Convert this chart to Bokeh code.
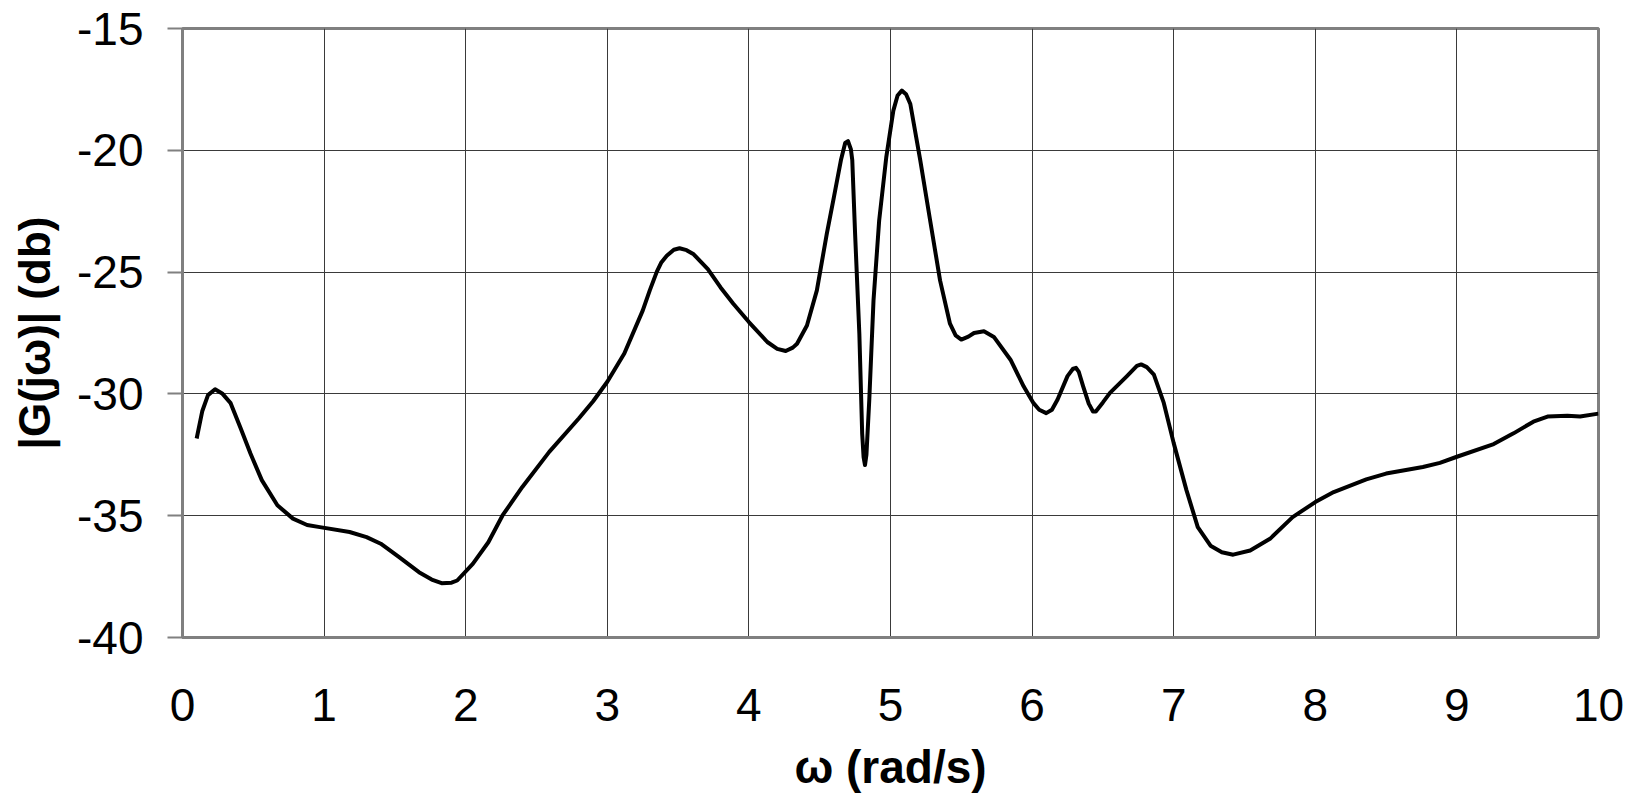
from bokeh.plotting import figure
from bokeh.models import FixedTicker, Range1d
from bokeh.embed import file_html
from bokeh.resources import INLINE

omega = [0.10, 0.14, 0.18, 0.23, 0.28, 0.34, 0.41, 0.48, 0.56, 0.67, 0.78, 0.88, 0.97,
         1.18, 1.30, 1.40, 1.53, 1.67, 1.76, 1.83, 1.90, 1.94, 2.05, 2.16, 2.26, 2.40,
         2.59, 2.80, 2.90, 3.00, 3.12, 3.25, 3.30, 3.35, 3.38, 3.42, 3.47, 3.51, 3.56,
         3.61, 3.71, 3.80, 3.89, 4.00, 4.13, 4.20, 4.26, 4.31, 4.34, 4.41, 4.48, 4.55,
         4.60, 4.65, 4.68, 4.70, 4.72, 4.73, 4.75, 4.78, 4.80, 4.81, 4.82, 4.83, 4.85,
         4.88, 4.92, 4.97, 5.02, 5.05, 5.08, 5.11, 5.14, 5.21, 5.28, 5.35, 5.42, 5.46,
         5.50, 5.55, 5.59, 5.66, 5.73, 5.85, 5.94, 6.01, 6.05, 6.10, 6.14, 6.18, 6.25,
         6.29, 6.31, 6.33, 6.36, 6.40, 6.43, 6.45, 6.50, 6.55, 6.67, 6.74, 6.77, 6.81,
         6.86, 6.93, 7.00, 7.09, 7.17, 7.26, 7.34, 7.42, 7.54, 7.68, 7.84, 8.00, 8.13,
         8.36, 8.50, 8.76, 8.88, 9.00, 9.26, 9.40, 9.54, 9.64, 9.78, 9.87, 10.00]

gain_db = [-31.83, -30.70, -30.05, -29.81, -29.98, -30.38, -31.40, -32.45, -33.54, -34.57,
           -35.12, -35.38, -35.47, -35.67, -35.88, -36.15, -36.70, -37.32, -37.62, -37.77,
           -37.75, -37.66, -36.98, -36.09, -34.99, -33.82, -32.38, -31.00, -30.30, -29.50,
           -28.34, -26.58, -25.75, -24.98, -24.62, -24.33, -24.08, -24.02, -24.10, -24.27,
           -24.88, -25.63, -26.30, -27.05, -27.87, -28.15, -28.24, -28.10, -27.94, -27.19,
           -25.75, -23.43, -21.93, -20.40, -19.70, -19.62, -19.95, -20.40, -23.43, -27.53,
           -31.63, -32.60, -32.92, -32.50, -30.26, -26.16, -22.88, -20.29, -18.37, -17.75,
           -17.55, -17.70, -18.10, -20.40, -22.88, -25.34, -27.12, -27.60, -27.77, -27.65,
           -27.50, -27.43, -27.66, -28.62, -29.69, -30.38, -30.65, -30.79, -30.65, -30.23,
           -29.27, -28.96, -28.93, -29.10, -29.68, -30.40, -30.72, -30.72, -30.35, -29.96,
           -29.27, -28.85, -28.79, -28.90, -29.21, -30.37, -32.02, -33.95, -35.47, -36.23,
           -36.50, -36.60, -36.43, -35.95, -35.06, -34.44, -34.03, -33.51, -33.27, -33.00,
           -32.83, -32.58, -32.06, -31.62, -31.14, -30.93, -30.90, -30.93, -30.81]

x_ticks = [0, 1, 2, 3, 4, 5, 6, 7, 8, 9, 10]
y_ticks = [-40, -35, -30, -25, -20, -15]

FONT = "Liberation Sans"

p = figure(width=1639, height=795, output_backend="svg", toolbar_location=None,
           x_range=Range1d(0, 10), y_range=Range1d(-40, -15),
           min_border_left=182, min_border_right=41, min_border_top=28, min_border_bottom=158)

p.background_fill_color = "white"
p.border_fill_color = "white"
p.outline_line_color = "#808080"
p.outline_line_width = 3

p.xaxis.ticker = FixedTicker(ticks=x_ticks)
p.yaxis.ticker = FixedTicker(ticks=y_ticks)
p.xaxis.major_label_overrides = {t: str(t) for t in x_ticks}
p.yaxis.major_label_overrides = {t: str(t) for t in y_ticks}

p.xgrid.grid_line_color = "#3a3a3a"
p.ygrid.grid_line_color = "#3a3a3a"
p.xgrid.grid_line_width = 1
p.ygrid.grid_line_width = 1

for ax in (p.xaxis[0], p.yaxis[0]):
    ax.axis_line_color = "#808080"
    ax.axis_line_width = 3
    ax.minor_tick_line_color = None
    ax.major_label_text_font = FONT
    ax.major_label_text_font_size = "46px"
    ax.major_label_text_color = "black"
    ax.axis_label_text_font = FONT
    ax.axis_label_text_font_style = "bold"
    ax.axis_label_text_color = "black"

p.xaxis.major_tick_line_color = None
p.xaxis.major_tick_out = 0
p.xaxis.major_tick_in = 0
p.xaxis.major_label_standoff = 51
p.xaxis.axis_label = "ω (rad/s)"
p.xaxis.axis_label_text_font_size = "46px"
p.xaxis.axis_label_standoff = 17

p.yaxis.major_tick_line_color = "#808080"
p.yaxis.major_tick_line_width = 2
p.yaxis.major_tick_out = 15
p.yaxis.major_tick_in = 0
p.yaxis.major_label_standoff = 24
p.yaxis.axis_label = "|G(jω)| (db)"
p.yaxis.axis_label_text_font_size = "44px"
p.yaxis.axis_label_standoff = 15

p.line(omega, gain_db, line_color="black", line_width=4, line_join="round")

open("out.html", "w").write(file_html(p, INLINE))
